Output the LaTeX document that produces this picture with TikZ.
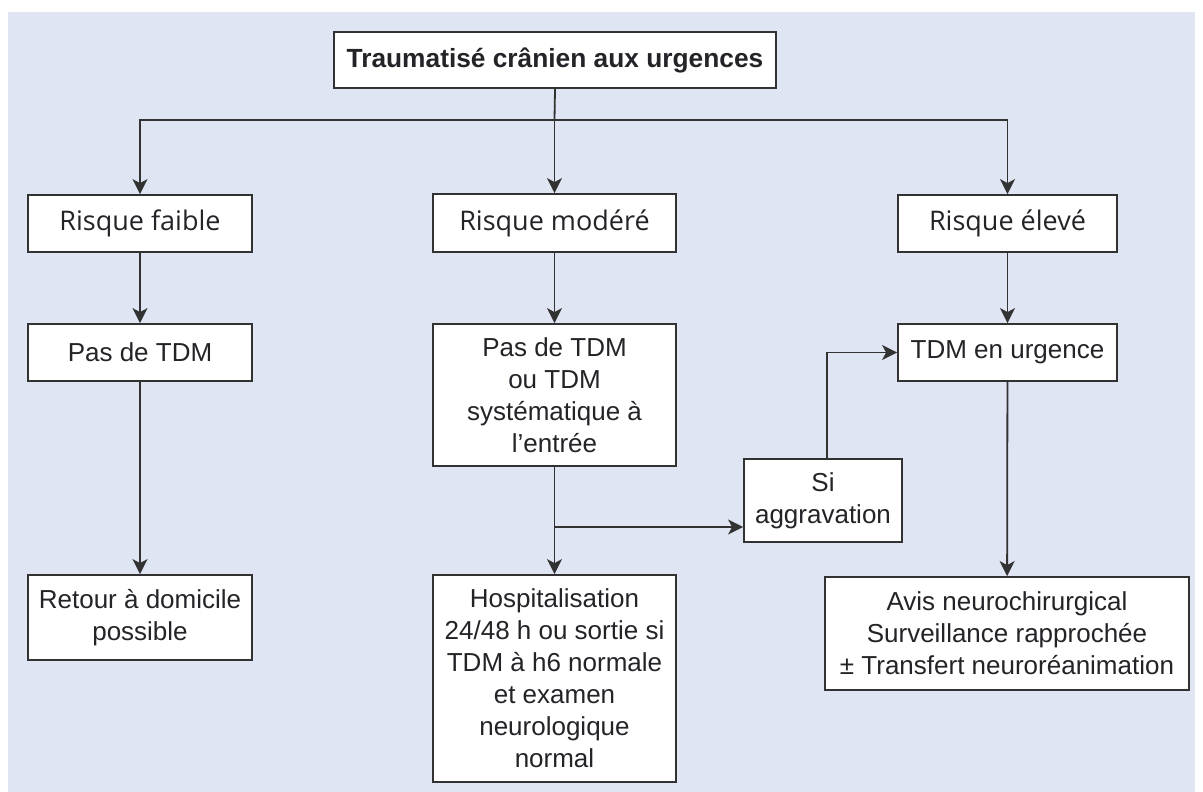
\documentclass[tikz,border=0pt]{standalone}
\usepackage{fontspec}
\setmainfont{Liberation Sans}
\newfontfamily\segoe{Open Sans}
\usetikzlibrary{arrows.meta}
\definecolor{bgblue}{RGB}{223,229,243}
\definecolor{lnc}{RGB}{50,50,50}
\definecolor{txc}{RGB}{35,35,40}
\begin{document}
\begin{tikzpicture}[x=1pt,y=-1pt,
  box/.style={draw=lnc,line width=1.8pt,fill=white,inner sep=0pt,align=center,text=txc,
    font=\fontsize{26}{32}\selectfont},
  riskbox/.style={box,font=\segoe\fontsize{27}{32}\selectfont},
  arr/.style={draw=lnc,line width=1.8pt,-{Stealth[length=15pt,width=15pt,inset=4pt]}},
  ln/.style={draw=lnc,line width=1.8pt}]
\useasboundingbox (0,0) rectangle (1203,792);
\fill[white] (0,0) rectangle (1203,792);
\fill[bgblue] (8,12) rectangle (1195,792);

\node[box,minimum width=442pt,minimum height=56pt,font=\bfseries\fontsize{26.3}{32}\selectfont] (top) at (555,60) {Traumatisé crânien aux urgences};

\node[riskbox,minimum width=224pt,minimum height=57pt] (rf) at (140,223.5) {Risque faible};
\node[riskbox,minimum width=243pt,minimum height=58pt] (rm) at (554.5,223) {Risque modéré};
\node[riskbox,minimum width=219pt,minimum height=57pt] (re) at (1007.5,223.5) {Risque élevé};

\node[box,minimum width=224pt,minimum height=57pt] (pt) at (140,352.5) {Pas de TDM};
\node[box,minimum width=243pt,minimum height=142pt] (mid) at (554.5,395) {Pas de TDM\\ou TDM\\systématique à\\l’entrée};
\node[box,minimum width=219pt,minimum height=57pt] (tu) at (1007.5,352.5) {TDM en urgence};

\node[box,minimum width=158pt,minimum height=83pt] (si) at (823,500.5) {Si\\aggravation};

\node[box,minimum width=224pt,minimum height=85pt] (ret) at (140,617.5) {Retour à domicile\\possible};
\node[box,minimum width=243pt,minimum height=207pt] (hosp) at (554.5,678.5) {Hospitalisation\\24/48 h ou sortie si\\TDM à h6 normale\\et examen\\neurologique\\normal};
\node[box,minimum width=364pt,minimum height=113pt] (avis) at (1007,633.5) {Avis neurochirurgical\\Surveillance rapprochée\\± Transfert neuroréanimation};

\coordinate (j) at (554.5,120);
\draw[ln] (top.south) -- (j);
\draw[arr] (j) -| (rf.north);
\draw[arr] (j) -- (rm.north);
\draw[arr] (j) -| (re.north);

\draw[arr] (rf) -- (pt);
\draw[arr] (pt) -- (ret);
\draw[arr] (rm) -- (mid);
\draw[arr] (mid) -- (hosp);
\draw[arr] (re) -- (tu);
\draw[arr] (tu) -- (avis);

\coordinate (b) at (554.5,527);
\draw[arr] (b) -- (si.west |- b);
\draw[arr] ([xshift=4pt]si.north) |- (tu.west);
\end{tikzpicture}
\end{document}
